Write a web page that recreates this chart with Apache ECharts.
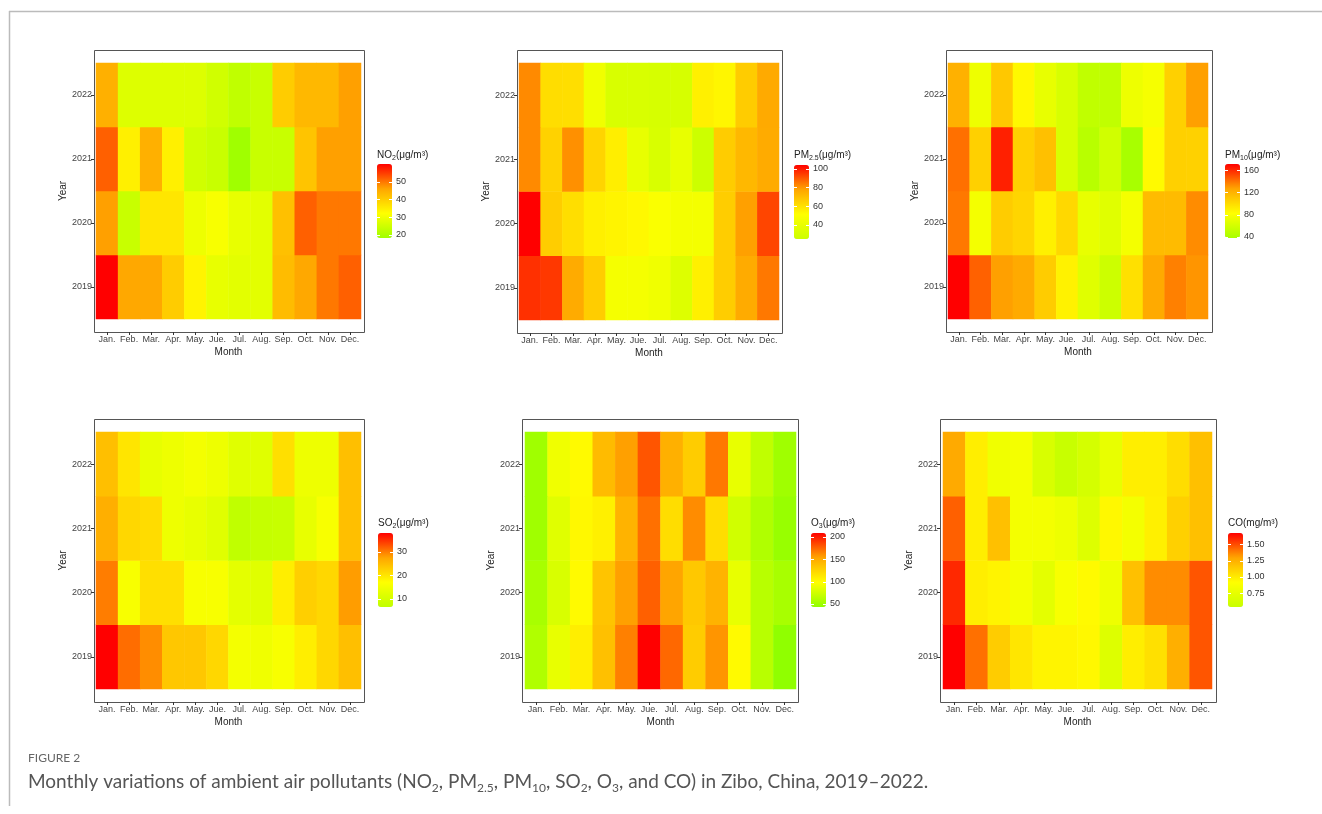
<!DOCTYPE html>
<html>
<head>
<meta charset="utf-8">
<script src="https://cdn.jsdelivr.net/npm/echarts@6/dist/echarts.min.js"></script>
<style>
  html, body { margin: 0; padding: 0; background: #fff; }
  #main { width: 1322px; height: 814px; }
</style>
</head>
<body>
<div id="main"></div>
<script>
/*######## 数据 ########*/
var months = ["Jan.", "Feb.", "Mar.", "Apr.", "May.", "Jue.", "Jul.", "Aug.", "Sep.", "Oct.", "Nov.", "Dec."];
var years = ["2019", "2020", "2021", "2022"];

// 每行一年 (2019, 2020, 2021, 2022)
var no2 = [
  [60, 45.6, 45.6, 40.1, 33.9, 28.8, 28.1, 28.1, 42.5, 45.6, 49.9, 51.9],
  [46.5, 24.1, 36.1, 36.1, 29.7, 31.2, 28.8, 28.1, 41.9, 51.9, 49.9, 49.9],
  [51.9, 34.5, 44.4, 34.5, 25.3, 24.1, 18.3, 24.1, 24.1, 41.3, 46.5, 46.5],
  [44.4, 27.2, 27.2, 27.2, 27.2, 25.3, 23.0, 24.1, 40.1, 43.2, 43.2, 46.5]
];
var pm25 = [
  [96.3, 95, 76, 66, 46, 46, 43.6, 33.8, 55.7, 66, 76, 84.9],
  [104, 66, 61, 55.7, 54.5, 53.5, 48.8, 45.6, 45.6, 66, 78.5, 93],
  [82, 64.5, 81, 64, 56.3, 39.5, 31.2, 39.5, 25, 66.2, 72.1, 76],
  [82, 61.3, 61, 43.6, 31.2, 31, 30, 30, 55.7, 54, 66.2, 76.2]
];
var pm10 = [
  [171, 145, 128, 124.2, 107.4, 88.7, 66.6, 56.4, 97.6, 124, 136.6, 131],
  [138.8, 76.7, 107.4, 103, 89.7, 101.6, 70.6, 66.6, 76.7, 115.8, 115.8, 133.4],
  [141, 105.5, 162.4, 105.5, 113.4, 62.5, 46.2, 58.4, 38, 84.8, 105.5, 105],
  [121, 73.7, 109.4, 85.8, 70.6, 62.5, 50.2, 50, 73.7, 77.8, 105.5, 128]
];
var so2 = [
  [37.8, 30.9, 28.9, 23.5, 23.5, 21.6, 15.2, 14.6, 15.9, 19, 21.6, 24.4],
  [29.9, 15.9, 20.7, 20.7, 15.9, 15.9, 12.6, 11.9, 19, 22.5, 21.6, 27.9],
  [26.3, 21.6, 21, 14.2, 13.2, 11.9, 6.6, 7.5, 7.8, 13.2, 15.9, 24.4],
  [24.4, 20, 13.2, 14.2, 15.2, 14.2, 11.9, 11.9, 20.7, 14.2, 14.2, 24.4]
];
var o3 = [
  [59, 86.8, 108.7, 137, 166, 209, 174, 129.7, 159, 101.4, 62.9, 43],
  [55, 78.9, 101.4, 134.6, 155.4, 176.8, 153.7, 132, 145, 86.8, 62.9, 55],
  [51, 82.9, 102.6, 107.6, 145, 171.5, 119.2, 162, 119, 74.9, 59, 47],
  [51, 90.8, 101.4, 140, 155.4, 180.4, 147, 129.7, 168.8, 86.8, 66.9, 51]
];
var co = [
  [1.67, 1.415, 1.13, 1.02, 0.963, 0.963, 0.946, 0.684, 0.987, 1.046, 1.25, 1.476],
  [1.578, 0.987, 0.963, 0.842, 0.732, 0.869, 0.938, 0.80, 1.18, 1.35, 1.35, 1.476],
  [1.451, 0.987, 1.18, 0.842, 0.842, 0.80, 0.684, 0.946, 0.842, 0.98, 1.113, 1.18],
  [1.272, 0.987, 0.814, 0.842, 0.65, 0.54, 0.62, 0.759, 0.987, 0.987, 1.059, 1.18]
];

// 色条刻度
var no2Ticks = [20, 30, 40, 50];
var pm25Ticks = [40, 60, 80, 100];
var pm10Ticks = [40, 80, 120, 160];
var so2Ticks = [10, 20, 30];
var o3Ticks = [50, 100, 150, 200];
var coTicks = [0.75, 1.0, 1.25, 1.5];

/*######## 布局 ########*/
var panels = [
  { data: no2, ticks: no2Ticks, dec: 0, low: "#a0ff00", title: "{m|NO}{s|2}{m|(μg/m³)}",
    tile: [96, 63, 265, 256], frame: [94, 50, 270, 282], leg: [377, 155, 164] },
  { data: pm25, ticks: pm25Ticks, dec: 0, low: "#ccff00", title: "{m|PM}{s|2.5}{m|(μg/m³)}",
    tile: [519, 63, 260, 257], frame: [517, 50, 265, 283], leg: [794, 155, 165] },
  { data: pm10, ticks: pm10Ticks, dec: 0, low: "#a8ff00", title: "{m|PM}{s|10}{m|(μg/m³)}",
    tile: [948, 63, 260, 256], frame: [946, 50, 266, 282], leg: [1225, 155, 164] },
  { data: so2, ticks: so2Ticks, dec: 0, low: "#c0ff00", title: "{m|SO}{s|2}{m|(μg/m³)}",
    tile: [96, 432, 265, 257], frame: [94, 419, 270, 283], leg: [378, 523, 533] },
  { data: o3, ticks: o3Ticks, dec: 0, low: "#90ff00", title: "{m|O}{s|3}{m|(μg/m³)}",
    tile: [525, 432, 271, 257], frame: [522, 419, 276, 283], leg: [811, 523, 533] },
  { data: co, ticks: coTicks, dec: 2, low: "#c8ff00", title: "{m|CO(mg/m³)}",
    tile: [943, 432, 269, 257], frame: [940, 419, 276, 283], leg: [1228, 523, 533] }
];
var barW = 15, barH = 74;
var font = "Liberation Sans, Arial, sans-serif";

var grids = [], xAxes = [], yAxes = [], series = [], visualMaps = [], graphics = [];

panels.forEach(function (p, i) {
  var cells = [], all = [];
  p.data.forEach(function (row, y) {
    row.forEach(function (v, x) {
      cells.push([x, y, v]);
      all.push(v);
    });
  });
  var vmin = Math.min.apply(null, all);
  var vmax = Math.max.apply(null, all);

  grids.push({ left: p.tile[0], top: p.tile[1], width: p.tile[2], height: p.tile[3] });
  xAxes.push({
    type: "category", gridIndex: i, data: months, position: "bottom",
    offset: p.frame[1] + p.frame[3] - (p.tile[1] + p.tile[3]),
    axisLine: { show: false },
    axisTick: { show: true, alignWithLabel: true, length: 3, lineStyle: { color: "#333" } },
    axisLabel: { interval: 0, fontSize: 9, color: "#444", margin: 3, fontFamily: font },
    splitLine: { show: false },
    name: "Month", nameLocation: "middle", nameGap: 15,
    nameTextStyle: { fontSize: 10, color: "#222", fontFamily: font }
  });
  yAxes.push({
    type: "category", gridIndex: i, data: years, position: "left",
    offset: p.tile[0] - p.frame[0],
    axisLine: { show: false },
    axisTick: { show: true, alignWithLabel: true, length: 3, lineStyle: { color: "#333" } },
    axisLabel: { fontSize: 9, color: "#444", margin: 2, fontFamily: font },
    splitLine: { show: false },
    name: "Year", nameLocation: "middle", nameGap: 19,
    nameTextStyle: { fontSize: 10, color: "#222", fontFamily: font }
  });
  series.push({
    type: "heatmap", xAxisIndex: i, yAxisIndex: i, data: cells,
    itemStyle: { borderWidth: 0 },
    emphasis: { disabled: true },
    progressive: 0
  });
  visualMaps.push({
    type: "continuous", seriesIndex: i, dimension: 2, min: vmin, max: vmax,
    calculable: false, hoverLink: false, realtime: false,
    orient: "vertical", left: p.leg[0], top: p.leg[2], padding: 0,
    itemWidth: barW, itemHeight: barH, text: null, showLabel: false,
    inRange: { color: [p.low, "#ffff00", "#ffa500", "#ff0000"] }
  });

  // 面板边框
  graphics.push({
    type: "rect", silent: true,
    shape: { x: p.frame[0] + 0.5, y: p.frame[1] + 0.5, width: p.frame[2], height: p.frame[3] },
    style: { fill: null, stroke: "#555", lineWidth: 1 }
  });
  // 图例标题
  graphics.push({
    type: "text", silent: true, x: p.leg[0], y: p.leg[1],
    style: {
      text: p.title, verticalAlign: "middle",
      rich: {
        m: { fontSize: 10, lineHeight: 14, fill: "#222", fontFamily: font },
        s: { fontSize: 7, lineHeight: 7, verticalAlign: "bottom", fill: "#222", fontFamily: font }
      }
    }
  });
  // 色条刻度
  p.ticks.forEach(function (t) {
    var ty = p.leg[2] + (vmax - t) / (vmax - vmin) * barH;
    graphics.push({
      type: "text", silent: true, x: p.leg[0] + barW + 4, y: ty,
      style: { text: t.toFixed(p.dec), fontSize: 9, fill: "#333", fontFamily: font, verticalAlign: "middle" }
    });
    graphics.push({
      type: "line", silent: true, z: 200,
      shape: { x1: p.leg[0], y1: Math.round(ty) + 0.5, x2: p.leg[0] + 3, y2: Math.round(ty) + 0.5 },
      style: { stroke: "#fff", lineWidth: 1 }
    });
    graphics.push({
      type: "line", silent: true, z: 200,
      shape: { x1: p.leg[0] + barW - 3, y1: Math.round(ty) + 0.5, x2: p.leg[0] + barW, y2: Math.round(ty) + 0.5 },
      style: { stroke: "#fff", lineWidth: 1 }
    });
  });
});

// 外框线
graphics.push({ type: "line", silent: true, shape: { x1: 9, y1: 11.5, x2: 1322, y2: 11.5 }, style: { stroke: "#bbb", lineWidth: 1.5 } });
graphics.push({ type: "line", silent: true, shape: { x1: 9.5, y1: 11, x2: 9.5, y2: 806 }, style: { stroke: "#bbb", lineWidth: 1.5 } });

// 图注
graphics.push({
  type: "text", silent: true, x: 28, y: 758,
  style: { text: "FIGURE 2", fontSize: 12, fill: "#666", fontFamily: "Lato, sans-serif", verticalAlign: "middle" }
});
graphics.push({
  type: "text", silent: true, x: 28, y: 782,
  style: {
    text: "{t|Monthly variations of ambient air pollutants (NO}{s|2}{t|, PM}{s|2.5}{t|, PM}{s|10}{t|, SO}{s|2}{t|, O}{s|3}{t|, and CO) in Zibo, China, 2019–2022.}",
    verticalAlign: "middle",
    rich: {
      t: { fontSize: 19, lineHeight: 24, fill: "#555", fontFamily: "Lato, sans-serif" },
      s: { fontSize: 12, lineHeight: 12, verticalAlign: "bottom", fill: "#555", fontFamily: "Lato, sans-serif" }
    }
  }
});

var myChart = echarts.init(document.getElementById("main"), null, { renderer: "canvas" });
var option = {
  animation: false,
  backgroundColor: "#fff",
  grid: grids,
  xAxis: xAxes,
  yAxis: yAxes,
  visualMap: visualMaps,
  series: series,
  graphic: graphics
};
if (option && typeof option === "object") {
  myChart.setOption(option, true);
}
</script>
</body>
</html>
